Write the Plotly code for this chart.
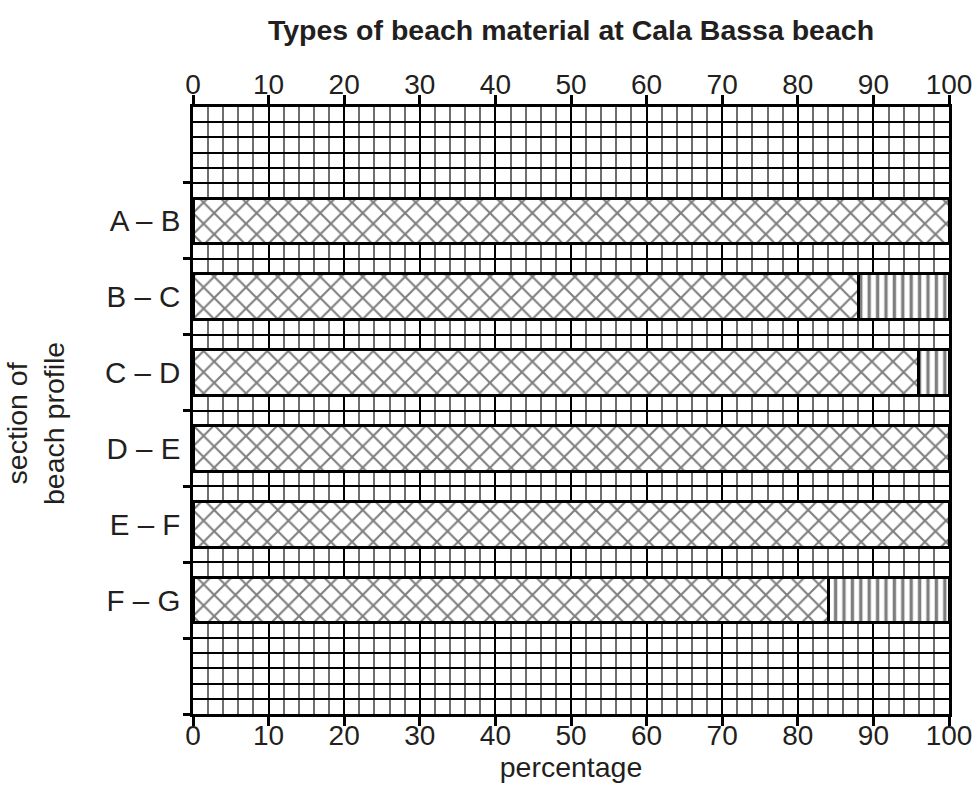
import plotly.graph_objects as go

sections = ["A – B", "B – C", "C – D", "D – E", "E – F", "F – G"]
material_1 = [100, 88, 96, 100, 100, 84]
material_2 = [0, 12, 4, 0, 0, 16]
x_ticks = [0, 10, 20, 30, 40, 50, 60, 70, 80, 90, 100]

positions = list(range(len(sections)))
boundaries = [p - 0.5 for p in positions] + [positions[-1] + 0.5, positions[-1] + 1.5]
y_range = [positions[-1] + 1.5, -1.5]

FONT = "Arial, 'Liberation Sans', Helvetica, sans-serif"
TXT = "#231f20"
TICK_SIZE = 28
TEXT_SIZE = 28.5
CAT_SIZE = 29.5

fig = go.Figure()
fig.add_trace(go.Bar(
    y=positions, x=material_1, orientation="h", width=0.6,
    marker=dict(color="white", line=dict(color="black", width=3),
                pattern=dict(shape="x", size=15, solidity=0.26, fgcolor="black", bgcolor="white")),
    name="material 1", showlegend=False, hoverinfo="x+y",
))
fig.add_trace(go.Bar(
    y=positions, x=[v if v > 0 else None for v in material_2], orientation="h", width=0.6,
    marker=dict(color="white", line=dict(color="black", width=3),
                pattern=dict(shape="|", size=8.4, solidity=0.4, fgcolor="black", bgcolor="white")),
    name="material 2", showlegend=False, hoverinfo="x+y",
))
# invisible trace for the overlay axes (top x ticks, boundary y ticks)
fig.add_trace(go.Scatter(x=[0, 100], y=[0, 0], xaxis="x2", yaxis="y2", mode="markers",
                         marker=dict(opacity=0), showlegend=False, hoverinfo="skip"))

fig.update_layout(
    barmode="stack",
    width=980, height=790,
    margin=dict(l=193, r=31, t=107, b=76, autoexpand=False),
    paper_bgcolor="white", plot_bgcolor="white",
    font=dict(family=FONT, size=TEXT_SIZE, color=TXT),
    title=dict(text="<b>Types of beach material at Cala Bassa beach</b>",
               x=(193 + 949) / 2 / 980, xanchor="center", y=1 - 30 / 790, yanchor="middle",
               yref="container", font=dict(size=TEXT_SIZE, color=TXT)),
    xaxis=dict(range=[0, 100], tickvals=x_ticks, ticks="outside", ticklen=9, tickwidth=2.5,
               tickcolor="black", showline=True, linecolor="black", linewidth=2.5, mirror=True,
               showgrid=True, gridcolor="black", gridwidth=2,
               minor=dict(dtick=2, tick0=0, showgrid=True, gridcolor="#6e6e6e", gridwidth=1.5, ticks=""),
               zeroline=False, tickfont=dict(size=TICK_SIZE, color=TXT), ticklabelstandoff=-14,
               title=dict(text="percentage", font=dict(size=TEXT_SIZE, color=TXT), standoff=4)),
    xaxis2=dict(range=[0, 100], tickvals=x_ticks, overlaying="x", side="top", anchor="y",
                ticks="outside", ticklen=9, tickwidth=2.5, tickcolor="black",
                showline=True, linecolor="black", linewidth=2.5, showgrid=False, zeroline=False,
                tickfont=dict(size=TICK_SIZE, color=TXT), ticklabelstandoff=-10),
    yaxis=dict(range=y_range, tickvals=positions, ticktext=sections, ticks="",
               showline=True, linecolor="black", linewidth=2.5, mirror=True,
               showgrid=False, zeroline=False, ticklabelstandoff=4,
               minor=dict(tick0=-0.5, dtick=0.2, showgrid=True, gridcolor="black", gridwidth=2, ticks=""),
               tickfont=dict(size=CAT_SIZE, color=TXT)),
    yaxis2=dict(range=y_range, tickvals=boundaries, overlaying="y", side="left", anchor="x",
                ticks="outside", ticklen=9, tickwidth=2.5, tickcolor="black",
                showticklabels=False, showgrid=False, zeroline=False, showline=False),
    annotations=[dict(text="section of<br>beach profile", textangle=-90,
                      x=(36 - 193) / (949 - 193), xref="paper",
                      xanchor="center", y=(714 - 424) / (714 - 107), yanchor="middle", yref="paper",
                      showarrow=False, font=dict(size=TEXT_SIZE, color=TXT))],
)

fig.write_html("out.html", config={"displayModeBar": False},
               post_script="document.body.style.margin='0px';")
